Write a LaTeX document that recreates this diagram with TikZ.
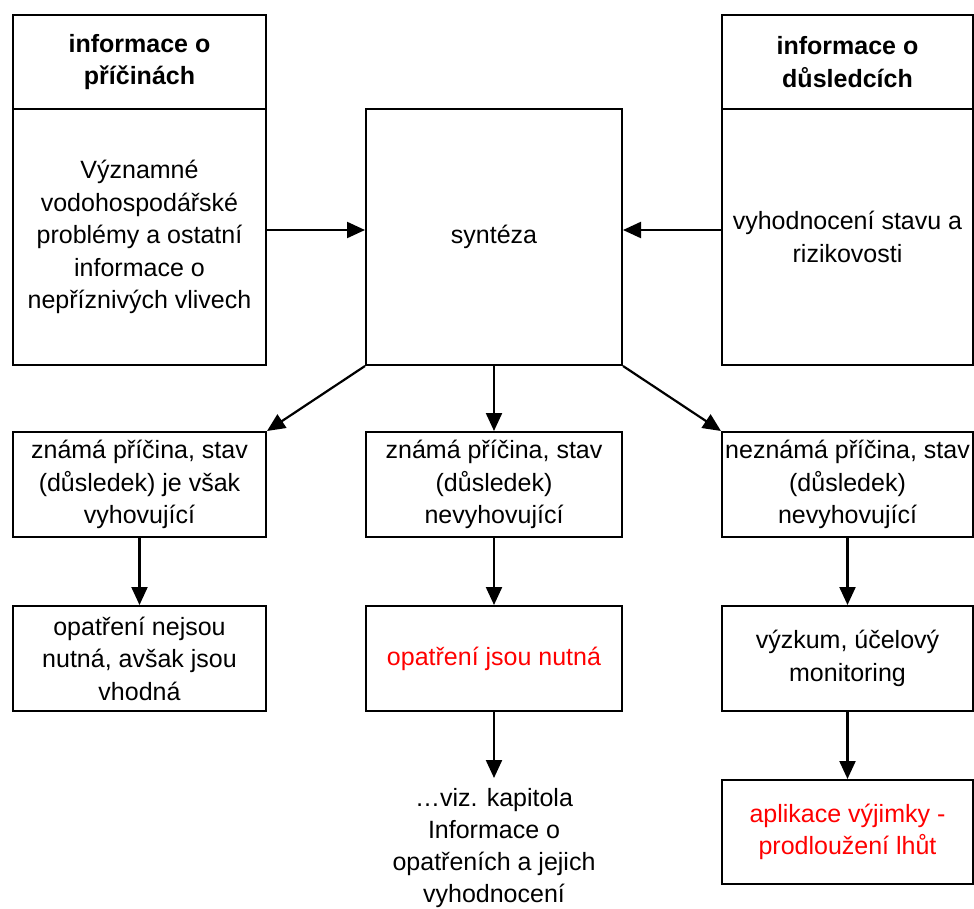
\documentclass[tikz,border=0pt]{standalone}
\usepackage{fontspec}
\setmainfont{Liberation Sans}
\usetikzlibrary{arrows.meta,calc}
\definecolor{alertred}{RGB}{255,0,0}
\begin{document}
\begin{tikzpicture}[x=1pt,y=-1pt,
  box/.style={draw, line width=2pt, inner sep=0pt, align=center,
    font=\fontsize{25}{32.5}\selectfont},
  boldbox/.style={box, font=\fontsize{25}{32.5}\selectfont\bfseries},
  txt/.style={inner sep=0pt, align=center, font=\fontsize{25}{32}\selectfont},
  arr/.style={line width=2.2pt, -{Triangle[length=18pt,width=16pt]}},
  redtext/.style={text=alertred}]
\useasboundingbox (0,0) rectangle (974,908);
% top row
\node[boldbox, minimum width=253pt, minimum height=94pt] (lhead) at (139.5,62) {informace o\\příčinách};
\node[box, minimum width=253pt, minimum height=256pt] (lbody) at (139.5,237) {Významné\\vodohospodářské\\problémy a ostatní\\informace o\\nepříznivých vlivech};
\node[box, minimum width=256pt, minimum height=256pt] (synt) at (494,237) {syntéza};
\node[boldbox, minimum width=251pt, minimum height=94pt] (rhead) at (847.5,62) {informace o\\důsledcích};
\node[box, minimum width=251pt, minimum height=256pt] (rbody) at (847.5,237) {vyhodnocení stavu a\\rizikovosti};
% second row
\node[box, minimum width=253pt, minimum height=105pt] (r2l) at (139.5,484.5) {známá příčina, stav\\(důsledek) je však\\vyhovující};
\node[box, minimum width=256pt, minimum height=105pt] (r2c) at (494,484.5) {známá příčina, stav\\(důsledek)\\nevyhovující};
\node[box, minimum width=251pt, minimum height=105pt] (r2r) at (847.5,484.5) {neznámá příčina, stav\\(důsledek)\\nevyhovující};
% third row
\node[box, minimum width=253pt, minimum height=105pt] (r3l) at (139.5,658.5) {opatření nejsou\\nutná, avšak jsou\\vhodná};
\node[box, redtext, minimum width=256pt, minimum height=105pt] (r3c) at (494,658.5) {opatření jsou nutná};
\node[box, minimum width=251pt, minimum height=105pt] (r3r) at (847.5,658.5) {výzkum, účelový\\monitoring};
% fourth row
\node[box, redtext, minimum width=251pt, minimum height=104pt] (fin) at (847.5,832) {aplikace výjimky -\\prodloužení lhůt};
\node[txt, anchor=north] (ref) at (494,788) {…viz. kapitola\\Informace o\\opatřeních a jejich\\vyhodnocení};
% connectors
\draw[arr] ($(lbody.east)+(0,-7)$) -- ($(synt.west)+(0,-7)$);
\draw[arr] ($(rbody.west)+(0,-7)$) -- ($(synt.east)+(0,-7)$);
\draw[arr] (synt.south west) -- (r2l.north east);
\draw[arr] (synt.south) -- (r2c.north);
\draw[arr] (synt.south east) -- (r2r.north west);
\draw[arr] (r2l.south) -- (r3l.north);
\draw[arr] (r2c.south) -- (r3c.north);
\draw[arr] (r2r.south) -- (r3r.north);
\draw[arr] (r3c.south) -- ($(ref.north)+(0,-10)$);
\draw[arr] (r3r.south) -- (fin.north);
\end{tikzpicture}
\end{document}
